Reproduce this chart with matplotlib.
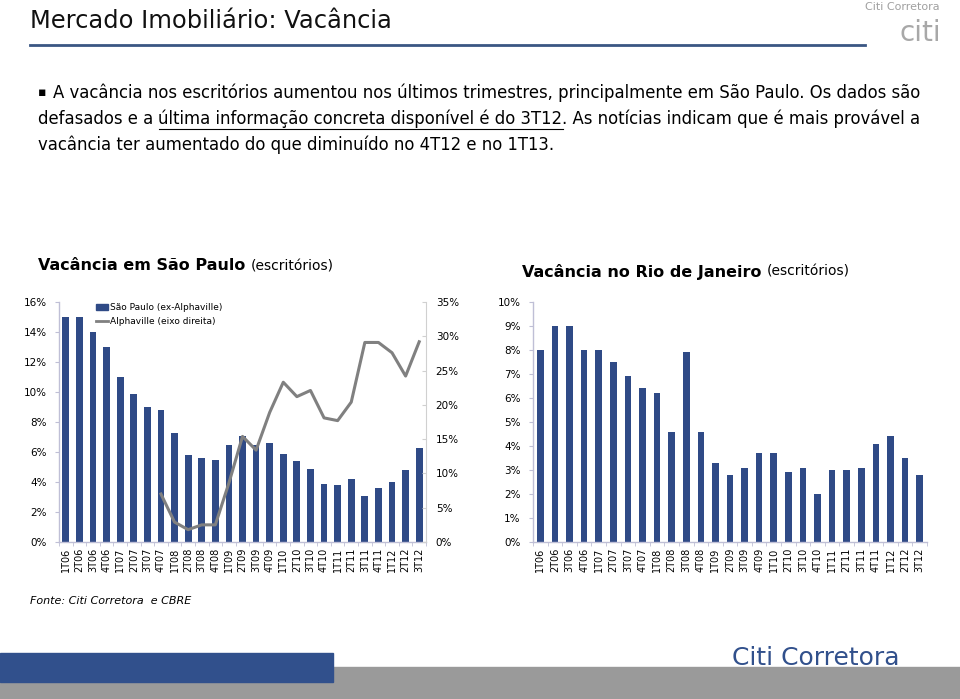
import matplotlib.pyplot as plt
import matplotlib.patches as mpatches
from matplotlib.lines import Line2D
import numpy as np

trimestres = ['1T06', '2T06', '3T06', '4T06', '1T07', '2T07', '3T07', '4T07',
              '1T08', '2T08', '3T08', '4T08', '1T09', '2T09', '3T09', '4T09',
              '1T10', '2T10', '3T10', '4T10', '1T11', '2T11', '3T11', '4T11',
              '1T12', '2T12', '3T12']

# São Paulo (ex-Alphaville), % vacância
sp_vacancia = [15.0, 15.0, 14.0, 13.0, 11.0, 9.9, 9.0, 8.8, 7.3, 5.8, 5.6, 5.5,
               6.5, 7.1, 6.5, 6.6, 5.9, 5.4, 4.9, 3.9, 3.8, 4.2, 3.1, 3.6,
               4.0, 4.8, 6.3]

# Alphaville (eixo direita), começa em 4T07
alphaville = [None] * 7 + [7.0, 2.9, 1.8, 2.5, 2.5, 8.6, 15.4, 13.4, 18.9,
                           23.3, 21.2, 22.1, 18.1, 17.7, 20.4, 29.1, 29.1,
                           27.6, 24.2, 29.2]

# Rio de Janeiro
rj_vacancia = [8.0, 9.0, 9.0, 8.0, 8.0, 7.5, 6.9, 6.4, 6.2, 4.6, 7.9, 4.6,
               3.3, 2.8, 3.1, 3.7, 3.7, 2.9, 3.1, 2.0, 3.0, 3.0, 3.1, 4.1,
               4.4, 3.5, 2.8]

AZUL = '#2F4A86'
CINZA = '#808080'
EIXO = '#BFBFD6'
W, H = 960, 699


def fx(px):
    return px / W


def fy(py):
    return 1 - py / H


def estilo_eixo(ax):
    for s in ['top', 'right']:
        ax.spines[s].set_visible(False)
    for s in ['left', 'bottom']:
        ax.spines[s].set_color(EIXO)
        ax.spines[s].set_linewidth(1.0)
    ax.set_xticks(np.arange(len(trimestres)))
    ax.set_xticklabels(trimestres, rotation=90, fontsize=7, family='DejaVu Sans')
    ax.tick_params(axis='x', which='major', length=0, pad=4)
    ax.set_xticks(np.arange(len(trimestres) + 1) - 0.5, minor=True)
    ax.tick_params(axis='x', which='minor', length=3, color=EIXO, direction='out')
    ax.tick_params(axis='y', length=3, color=EIXO, labelsize=7.5, pad=6)


fig = plt.figure(figsize=(9.6, 6.99), dpi=100)

# cabeçalho
fig.text(fx(30), fy(21), 'Mercado Imobiliário: Vacância', fontsize=17.4,
         va='center', color='#111111')
fig.add_artist(Line2D([fx(30), fx(865)], [fy(45), fy(45)], color='#3A5683', lw=2))
fig.text(fx(940), fy(7), 'Citi Corretora', fontsize=8, ha='right', va='center',
         color='#A0A0A0')
fig.text(fx(920), fy(33), 'citi', fontsize=20, ha='center', va='center',
         color='#A8A8A8')

# texto
fig.canvas.draw()
rend = fig.canvas.get_renderer()
fs = 11.9
fig.text(fx(38), fy(92), '\u25aa', fontsize=9, va='center', color='black')
fig.text(fx(53), fy(93), 'A vacância nos escritórios aumentou nos últimos trimestres, '
         'principalmente em São Paulo. Os dados são', fontsize=fs, va='center')

partes = ['defasados e a ', 'última informação concreta disponível é do 3T12',
          '. As notícias indicam que é mais provável a']
x = 38
for i, p in enumerate(partes):
    t = fig.text(fx(x), fy(119), p, fontsize=fs, va='center')
    bb = t.get_window_extent(rend)
    if i == 1:
        fig.add_artist(Line2D([fx(x), fx(x + bb.width)], [fy(129), fy(129)],
                              color='black', lw=0.8))
    x += bb.width
fig.text(fx(38), fy(145), 'vacância ter aumentado do que diminuído no 4T12 e no 1T13.',
         fontsize=fs, va='center')

# títulos dos gráficos
t = fig.text(fx(38), fy(266), 'Vacância em São Paulo', fontsize=11.5, weight='bold',
             va='center')
bb = t.get_window_extent(rend)
fig.text(fx(38 + bb.width + 5), fy(266), '(escritórios)', fontsize=10, va='center')
t = fig.text(fx(522), fy(272), 'Vacância no Rio de Janeiro', fontsize=11.5,
             weight='bold', va='center')
bb = t.get_window_extent(rend)
fig.text(fx(522 + bb.width + 5), fy(272), '(escritórios)', fontsize=10, va='center')

x_idx = np.arange(len(trimestres))

# São Paulo
ax1 = fig.add_axes([fx(59), fy(542), fx(367), 240 / H])
ax1.bar(x_idx, sp_vacancia, width=0.5, color=AZUL, zorder=2)
ax1.set_xlim(-0.5, len(trimestres) - 0.5)
ax1.set_ylim(0, 16)
ax1.set_yticks(np.arange(0, 17, 2))
ax1.set_yticklabels([f'{v}%' for v in range(0, 17, 2)])
estilo_eixo(ax1)

ax2 = ax1.twinx()
alpha_y = np.array([np.nan if v is None else v for v in alphaville])
ax2.plot(x_idx, alpha_y, color=CINZA, lw=2.2, zorder=3)
ax2.set_ylim(0, 35)
ax2.set_yticks(np.arange(0, 36, 5))
ax2.set_yticklabels([f'{v}%' for v in range(0, 36, 5)])
for s in ['top', 'left', 'bottom']:
    ax2.spines[s].set_visible(False)
ax2.spines['right'].set_color('#D0D0D0')
ax2.tick_params(axis='y', length=3, color='#D0D0D0', direction='in',
                labelsize=7.5, pad=7)

leg = [mpatches.Patch(color=AZUL, label='São Paulo (ex-Alphaville)'),
       Line2D([0], [0], color=CINZA, lw=2, label='Alphaville (eixo direita)')]
ax1.legend(handles=leg, loc='upper left', bbox_to_anchor=(0.08, 1.03), frameon=False,
           fontsize=6.5, handlelength=1.3, handletextpad=0.2, labelspacing=0.55)

# Rio de Janeiro
ax3 = fig.add_axes([fx(533), fy(542), fx(394), 240 / H])
ax3.bar(x_idx, rj_vacancia, width=0.45, color=AZUL, zorder=2)
ax3.set_xlim(-0.45, len(trimestres) - 0.55)
ax3.set_ylim(0, 10)
ax3.set_yticks(np.arange(0, 11, 1))
ax3.set_yticklabels([f'{v}%' for v in range(0, 11)])
estilo_eixo(ax3)

# rodapé
fig.text(fx(30), fy(601), 'Fonte: Citi Corretora  e CBRE', fontsize=8, style='italic',
         va='center')
fig.add_artist(mpatches.Rectangle((0, 0), 1, fy(667), transform=fig.transFigure,
                                  color='#9A9A9A', zorder=0))
fig.add_artist(mpatches.Rectangle((0, fy(682)), fx(333), (682 - 653) / H,
                                  transform=fig.transFigure, color='#31508C', zorder=1))
fig.text(fx(900), fy(658), 'Citi Corretora', fontsize=18, ha='right', va='center',
         color='#31508C')

fig.savefig('out.png', dpi=100)
